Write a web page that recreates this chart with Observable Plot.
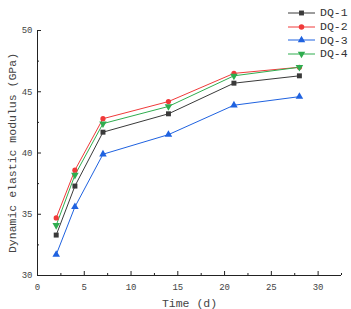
<!DOCTYPE html>
<html>
<head>
<meta charset="utf-8">
<script src="https://cdn.jsdelivr.net/npm/d3@7"></script>
<script src="https://cdn.jsdelivr.net/npm/@observablehq/plot@0.6"></script>
<style>
  html, body { margin: 0; padding: 0; background: #fff; }
  #wrap { position: relative; width: 351px; height: 309px; font-family: 'Liberation Mono', monospace; }
  #legend { position: absolute; left: 288px; top: 6px; font-size: 11.5px; color: #333; }
  .row { display: flex; align-items: center; height: 13.7px; }
  .row span { margin-left: 5px; }
</style>
</head>
<body>
<div id="wrap"><div id="legend"></div></div>
<script>
const days = [2, 4, 7, 14, 21, 28];
const series = ["DQ-1", "DQ-2", "DQ-3", "DQ-4"];
const dq1 = [33.3, 37.3, 41.7, 43.2, 45.7, 46.3];
const dq2 = [34.7, 38.6, 42.8, 44.2, 46.5, 47.0];
const dq3 = [31.7, 35.6, 39.9, 41.5, 43.9, 44.6];
const dq4 = [34.1, 38.2, 42.4, 43.8, 46.3, 47.0];
const colors = ["#3a3a3a", "#f03a3a", "#1f62e0", "#2fad4f"];
const xTicks = [0, 5, 10, 15, 20, 25, 30];
const xMinor = [2.5, 7.5, 12.5, 17.5, 22.5, 27.5, 32.5];
const yTicks = [30, 35, 40, 45, 50];
const yMinor = [32.5, 37.5, 42.5, 47.5];

const triDown = {
  draw(ctx, size) {
    const s = Math.sqrt(size / (Math.sqrt(3) / 4));
    const h = s * Math.sqrt(3) / 2;
    ctx.moveTo(-s / 2, -h / 3);
    ctx.lineTo(s / 2, -h / 3);
    ctx.lineTo(0, 2 * h / 3);
    ctx.closePath();
  }
};
const symbols = ["square", "circle", "triangle", triDown];
const values = [dq1, dq2, dq3, dq4];
const rows = [];
series.forEach((s, k) => days.forEach((d, i) => rows.push({series: s, day: d, value: values[k][i]})));

const marks = [
  Plot.ruleY([30], {stroke: "#222"}),
  Plot.ruleX([0], {stroke: "#222", y1: 30, y2: 50}),
  Plot.ruleX(xTicks, {x: d => d, y1: 30, y2: 30, insetTop: -4, stroke: "#222"}),
  Plot.ruleX(xMinor, {x: d => d, y1: 30, y2: 30, insetTop: -2, stroke: "#222"}),
  Plot.ruleY(yTicks, {y: d => d, x1: 0, x2: 0, insetRight: -4, stroke: "#222"}),
  Plot.ruleY(yMinor, {y: d => d, x1: 0, x2: 0, insetRight: -2, stroke: "#222"}),
  Plot.axisX({ticks: xTicks, tickSize: 0, tickPadding: 8, fontSize: 9, label: null, color: "#444"}),
  Plot.axisY({ticks: yTicks, tickSize: 0, tickPadding: 5, fontSize: 9, label: null, color: "#444"}),
  Plot.axisX({ticks: [], tickSize: 0, fontSize: 11.5, label: "Time (d)", labelAnchor: "center", labelArrow: "none", labelOffset: 31, color: "#444"}),
  Plot.axisY({ticks: [], tickSize: 0, fontSize: 11.5, label: "Dynamic elastic modulus (GPa)", labelAnchor: "center", labelArrow: "none", labelOffset: 30, color: "#444"})
];
series.forEach((s, k) => {
  const data = rows.filter(r => r.series === s);
  marks.push(Plot.line(data, {x: "day", y: "value", stroke: colors[k], strokeWidth: 1}));
});
series.forEach((s, k) => {
  const data = rows.filter(r => r.series === s);
  marks.push(Plot.dot(data, {x: "day", y: "value", fill: colors[k], stroke: "none", symbol: () => symbols[k], r: k === 1 ? 2.6 : 2.8}));
});

const chart = Plot.plot({
  width: 351,
  height: 309,
  marginLeft: 37,
  marginTop: 30,
  marginBottom: 34,
  marginRight: 10,
  style: {fontFamily: "'Liberation Mono', monospace", fontSize: "11px", background: "#fff", color: "#444"},
  x: {domain: [0, 32.5]},
  y: {domain: [30, 50]},
  symbol: {type: "identity"},
  marks
});
document.getElementById("wrap").prepend(chart);

const legend = document.getElementById("legend");
series.forEach((s, k) => {
  const row = document.createElement("div");
  row.className = "row";
  const svg = d3.create("svg").attr("width", 27).attr("height", 10);
  svg.append("line").attr("x1", 0).attr("x2", 27).attr("y1", 5).attr("y2", 5).attr("stroke", colors[k]);
  const sym = typeof symbols[k] === "string" ? {square: d3.symbolSquare, circle: d3.symbolCircle, triangle: d3.symbolTriangle}[symbols[k]] : symbols[k];
  svg.append("path").attr("d", d3.symbol(sym, 24)()).attr("transform", "translate(13.5,5)").attr("fill", colors[k]);
  row.append(svg.node());
  const t = document.createElement("span");
  t.textContent = s;
  row.append(t);
  legend.append(row);
});
</script>
</body>
</html>
